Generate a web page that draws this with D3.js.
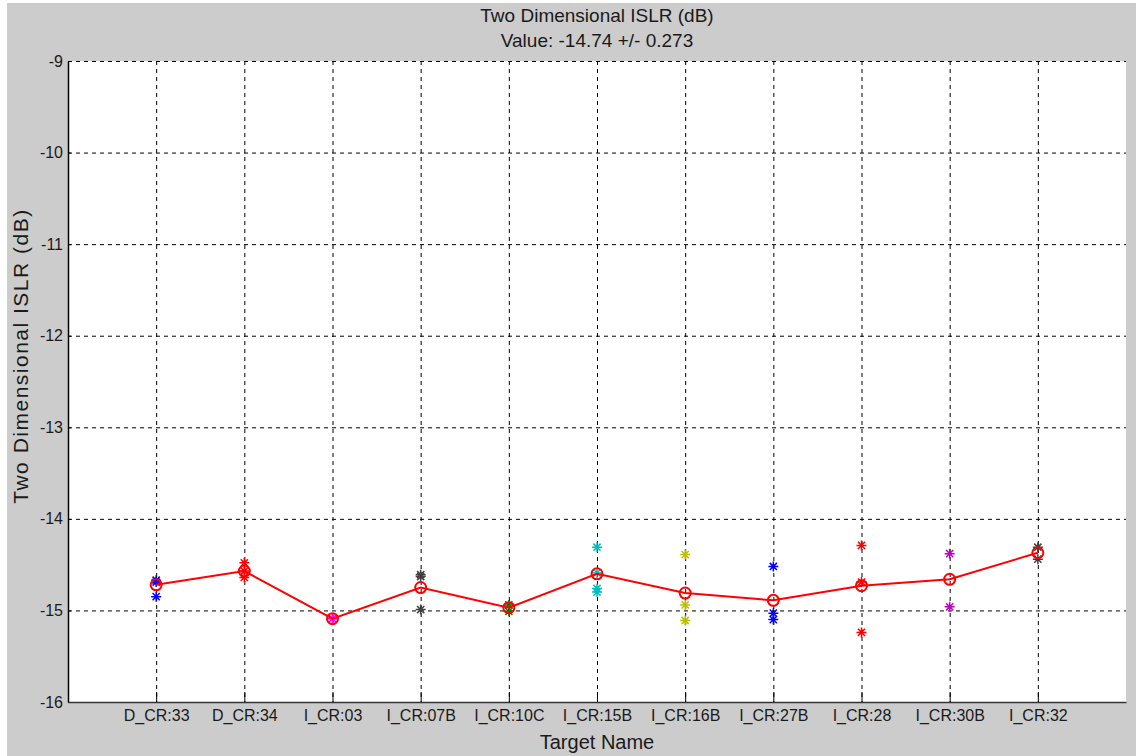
<!DOCTYPE html>
<html>
<head>
<meta charset="utf-8">
<script src="https://cdn.jsdelivr.net/npm/d3@7"></script>
<style>
  body { margin: 0; background: #fff; }
  text { font-family: "Liberation Sans", Arial, sans-serif; fill: #1a1a1a; }
</style>
</head>
<body>
<svg id="chart" width="1136" height="756"></svg>
<script>
// target names along x
const categories = ["D_CR:33", "D_CR:34", "I_CR:03", "I_CR:07B", "I_CR:10C", "I_CR:15B",
  "I_CR:16B", "I_CR:27B", "I_CR:28", "I_CR:30B", "I_CR:32"];

// mean ISLR per target (red line with circles)
const meanValues = [-14.72, -14.57, -15.09, -14.75, -14.97, -14.60, -14.81, -14.89, -14.73, -14.66, -14.37];

// individual measurements per target (star markers)
const sampleValues = [
  [-14.67, -14.69, -14.85],
  [-14.48, -14.57, -14.64],
  [-15.09],
  [-14.61, -14.63, -14.99],
  [-14.94, -15.01],
  [-14.31, -14.59, -14.76, -14.80],
  [-14.39, -14.94, -15.11],
  [-14.52, -15.03, -15.10],
  [-14.29, -14.69, -15.24],
  [-14.38, -14.96],
  [-14.31, -14.44]
];
const sampleColors = ["#0000ff", "#ff0000", "#ff00ff", "#404040", "#008000", "#00bfbf",
  "#bfbf00", "#0000ff", "#ff0000", "#bf00bf", "#404040"];

const yTicks = [-16, -15, -14, -13, -12, -11, -10, -9];

const titleLines = ["Two Dimensional ISLR (dB)", "Value: -14.74 +/- 0.273"];
const xLabel = "Target Name";
const yLabel = "Two Dimensional ISLR (dB)";

const margin = { top: 61, right: 10, bottom: 54, left: 68 };
const W = 1136, H = 756;
const width = W - margin.left - margin.right;
const height = H - margin.top - margin.bottom;

const svg = d3.select("#chart");

// figure background
svg.append("rect").attr("x", 7).attr("y", 3).attr("width", W - 7).attr("height", H - 3)
  .attr("fill", "#cccccc");

const g = svg.append("g").attr("transform", `translate(${margin.left}, ${margin.top})`);

const x = d3.scaleLinear().domain([0, categories.length + 1]).range([0, width]);
const y = d3.scaleLinear().domain([-16, -9]).range([height, 0]);

g.append("rect").attr("width", width).attr("height", height).attr("fill", "#fff");

// grid
g.append("g").selectAll("line").data(yTicks.slice(1)).enter().append("line")
  .attr("x1", 0).attr("x2", width)
  .attr("y1", d => y(d) + 0.5).attr("y2", d => y(d) + 0.5)
  .attr("stroke", "#000").attr("stroke-width", 1).attr("stroke-dasharray", "4,4");

g.append("g").selectAll("line").data(categories).enter().append("line")
  .attr("x1", (d, i) => x(i + 1) + 0.5).attr("x2", (d, i) => x(i + 1) + 0.5)
  .attr("y1", 0).attr("y2", height)
  .attr("stroke", "#000").attr("stroke-width", 1).attr("stroke-dasharray", "4,4");

// y axis
const yAxis = g.append("g")
  .call(d3.axisLeft(y).tickValues(yTicks).tickFormat(d => String(d))
    .tickSizeInner(-3).tickSizeOuter(0).tickPadding(5));
yAxis.select(".domain").attr("stroke", "#000").attr("stroke-width", 1.5);
yAxis.selectAll(".tick line").attr("stroke", "#000");
yAxis.selectAll("text").attr("font-size", 16).attr("fill", "#1a1a1a")
  .attr("font-family", "Liberation Sans, Arial, sans-serif");

// x axis
const xAxis = g.append("g").attr("transform", `translate(0, ${height})`)
  .call(d3.axisBottom(x).tickValues(d3.range(1, categories.length + 1))
    .tickFormat(d => categories[d - 1]).tickSizeInner(-10).tickSizeOuter(0).tickPadding(8));
xAxis.select(".domain").attr("stroke", "#333").attr("stroke-width", 1.5);
xAxis.selectAll(".tick line").attr("stroke", "#000");
xAxis.selectAll("text").attr("font-size", 16).attr("fill", "#1a1a1a")
  .attr("font-family", "Liberation Sans, Arial, sans-serif");

// star markers
const star = s => {
  const d = s * 0.72;
  return `M${-s},0L${s},0M0,${-s}L0,${s}M${-d},${-d}L${d},${d}M${-d},${d}L${d},${-d}`;
};
const pts = [];
sampleValues.forEach((vals, i) => vals.forEach(v => pts.push({ i, v })));
g.append("g").selectAll("path").data(pts).enter().append("path")
  .attr("transform", d => `translate(${x(d.i + 1)}, ${y(d.v)})`)
  .attr("d", star(5))
  .attr("fill", "none")
  .attr("stroke", d => sampleColors[d.i])
  .attr("stroke-width", 1.5);

// mean line
const line = d3.line().x((d, i) => x(i + 1)).y(d => y(d));
g.append("path").datum(meanValues)
  .attr("d", line).attr("fill", "none").attr("stroke", "#ff0000").attr("stroke-width", 2);

g.append("g").selectAll("circle").data(meanValues).enter().append("circle")
  .attr("cx", (d, i) => x(i + 1)).attr("cy", d => y(d)).attr("r", 5.5)
  .attr("fill", "none").attr("stroke", "#ff0000").attr("stroke-width", 2);

// titles
svg.append("g").selectAll("text").data(titleLines).enter().append("text")
  .attr("x", margin.left + width / 2).attr("y", (d, i) => 22 + i * 25)
  .attr("text-anchor", "middle").attr("font-size", 19).text(d => d);

svg.append("text").attr("x", margin.left + width / 2).attr("y", 749)
  .attr("text-anchor", "middle").attr("font-size", 20).text(xLabel);

svg.append("text")
  .attr("transform", `translate(28, 356) rotate(-90)`)
  .attr("text-anchor", "middle").attr("font-size", 21).attr("letter-spacing", 1.5)
  .text(yLabel);
</script>
</body>
</html>
